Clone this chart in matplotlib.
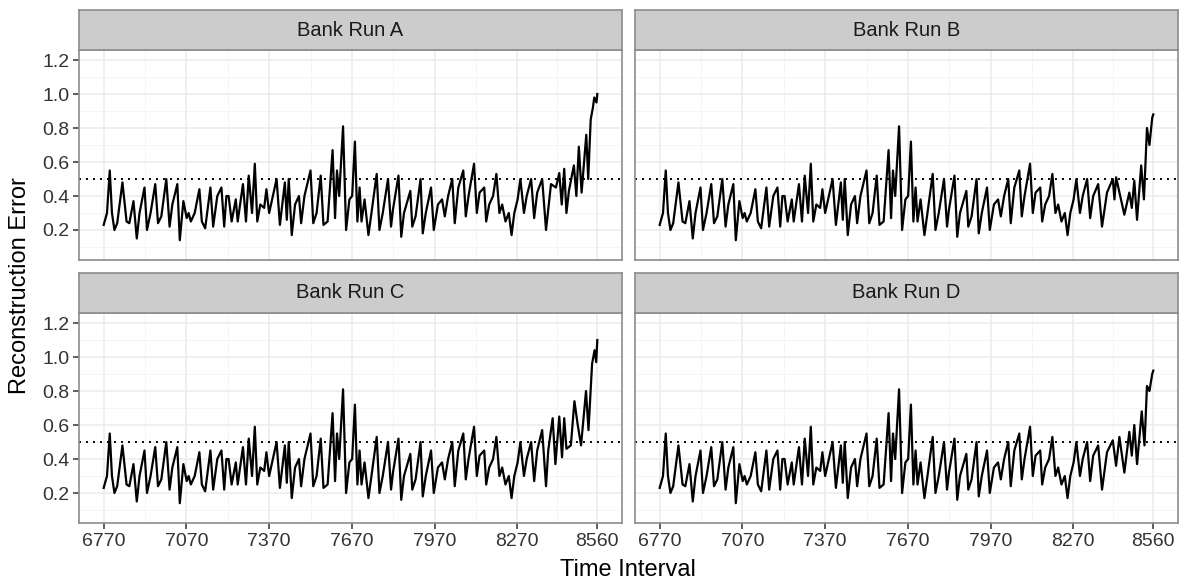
import matplotlib
matplotlib.use("Agg")
import matplotlib.pyplot as plt

plt.rcParams['font.family'] = ['Liberation Sans', 'DejaVu Sans']

# ---------------- data ----------------
panels = ["Bank Run A", "Bank Run B", "Bank Run C", "Bank Run D"]
threshold = 0.5
x_ticks = [6770, 7070, 7370, 7670, 7970, 8270, 8560]
y_ticks = [0.2, 0.4, 0.6, 0.8, 1.0, 1.2]

# common part of the four runs (time interval, reconstruction error)
base_time = [6770, 6775, 6782, 6792, 6800, 6809, 6819, 6838, 6853, 6863, 6878, 6890, 6900, 6918,
             6927, 6940, 6957, 6967, 6979, 6997, 7009, 7019, 7037, 7046, 7059, 7071,
             7078, 7086, 7100, 7117, 7126, 7138, 7157, 7167, 7182, 7197, 7207, 7215,
             7223, 7234, 7249, 7256, 7275, 7286, 7296, 7308, 7318, 7327, 7338, 7352,
             7360, 7370, 7397, 7409, 7427, 7434, 7441, 7452, 7464, 7478, 7486, 7498,
             7520, 7530, 7542, 7557, 7567, 7582, 7600, 7609, 7616, 7624, 7638, 7649,
             7661, 7671, 7681, 7690, 7698, 7705, 7716, 7730, 7741, 7760, 7770, 7782,
             7801, 7812, 7819, 7839, 7849, 7859, 7882, 7889, 7901, 7919, 7927, 7938,
             7957, 7967, 7982, 7997, 8007, 8019, 8034, 8043, 8056, 8074, 8083, 8093,
             8113, 8123, 8133, 8150, 8157, 8168, 8182, 8194, 8205, 8215, 8227, 8239,
             8249, 8259, 8271, 8281, 8294, 8304, 8320]
base_error = [0.23, 0.26, 0.30, 0.55, 0.30, 0.20, 0.24, 0.48, 0.25, 0.24, 0.37, 0.15, 0.30, 0.45,
              0.20, 0.30, 0.47, 0.24, 0.28, 0.50, 0.22, 0.35, 0.47, 0.14, 0.37, 0.27,
              0.30, 0.25, 0.30, 0.44, 0.25, 0.21, 0.45, 0.22, 0.40, 0.45, 0.22, 0.40,
              0.40, 0.25, 0.38, 0.25, 0.47, 0.25, 0.52, 0.30, 0.59, 0.25, 0.35, 0.33,
              0.44, 0.30, 0.50, 0.23, 0.48, 0.26, 0.50, 0.17, 0.35, 0.40, 0.24, 0.40,
              0.55, 0.24, 0.30, 0.52, 0.23, 0.25, 0.67, 0.27, 0.55, 0.40, 0.81, 0.20,
              0.38, 0.40, 0.72, 0.25, 0.45, 0.25, 0.38, 0.17, 0.30, 0.53, 0.20, 0.30,
              0.50, 0.22, 0.32, 0.52, 0.16, 0.30, 0.43, 0.22, 0.28, 0.50, 0.18, 0.30,
              0.45, 0.20, 0.35, 0.38, 0.28, 0.40, 0.50, 0.24, 0.45, 0.55, 0.28, 0.40,
              0.59, 0.30, 0.42, 0.45, 0.25, 0.35, 0.40, 0.53, 0.30, 0.35, 0.25, 0.30,
              0.17, 0.30, 0.38, 0.50, 0.30, 0.40, 0.50]

# run-specific end segments
tail_time_A = [8331, 8342, 8360, 8374, 8392, 8410, 8422, 8431, 8440, 8448, 8457, 8475,
               8484, 8493, 8503, 8520, 8527, 8536, 8544, 8549, 8557, 8560]
tail_error_A = [0.27, 0.42, 0.50, 0.20, 0.47, 0.45, 0.535, 0.35, 0.56, 0.30, 0.43, 0.58,
                0.40, 0.69, 0.42, 0.76, 0.50, 0.85, 0.92, 0.98, 0.95, 1.00]
tail_time_B = [8331, 8342, 8360, 8374, 8392, 8413, 8419, 8425, 8440, 8455, 8473, 8482,
               8491, 8501, 8516, 8526, 8537, 8546, 8556, 8560]
tail_error_B = [0.27, 0.40, 0.47, 0.22, 0.42, 0.50, 0.38, 0.51, 0.40, 0.29, 0.42, 0.33,
                0.49, 0.26, 0.58, 0.38, 0.80, 0.70, 0.86, 0.88]
tail_time_C = [8331, 8342, 8360, 8374, 8382, 8398, 8408, 8422, 8432, 8440, 8448, 8464,
               8477, 8489, 8501, 8519, 8528, 8541, 8550, 8556, 8560]
tail_error_C = [0.27, 0.45, 0.57, 0.24, 0.45, 0.64, 0.37, 0.65, 0.41, 0.64, 0.46, 0.48,
                0.74, 0.60, 0.48, 0.80, 0.57, 0.96, 1.04, 0.97, 1.10]
tail_time_D = [8331, 8342, 8360, 8374, 8392, 8413, 8425, 8437, 8455, 8473, 8482, 8491,
               8501, 8518, 8528, 8537, 8546, 8556, 8560]
tail_error_D = [0.27, 0.42, 0.48, 0.22, 0.44, 0.51, 0.36, 0.53, 0.32, 0.56, 0.42, 0.60,
                0.37, 0.68, 0.48, 0.83, 0.80, 0.90, 0.92]

tails = {
    "Bank Run A": (tail_time_A, tail_error_A),
    "Bank Run B": (tail_time_B, tail_error_B),
    "Bank Run C": (tail_time_C, tail_error_C),
    "Bank Run D": (tail_time_D, tail_error_D),
}

# ---------------- layout ----------------
W, H = 1183, 583
fig = plt.figure(figsize=(W / 100, H / 100), dpi=100)
fig.patch.set_facecolor("white")


def rect(l, t, r, b):
    return [l / W, 1 - b / H, (r - l) / W, (b - t) / H]


boxes = {
    "Bank Run A": (79, 50, 622, 260),
    "Bank Run B": (635, 50, 1178, 260),
    "Bank Run C": (79, 313, 622, 523),
    "Bank Run D": (635, 313, 1178, 523),
}
strip_h = 40
border_col = "#8c8c8c"
grid_major = "#ebebeb"
grid_minor = "#f4f4f4"
text_col = "#333333"

x_minor = [6620, 6920, 7220, 7520, 7820, 8120, 8415]
y_minor = [0.1, 0.3, 0.5, 0.7, 0.9, 1.1]

for i, name in enumerate(panels):
    l, t, r, b = boxes[name]
    ax = fig.add_axes(rect(l, t, r, b))
    ax.set_xlim(6680.5, 8649.5)
    ax.set_ylim(0.0235, 1.259)

    for xm in x_minor:
        ax.axvline(xm, color=grid_minor, lw=0.6, zorder=0)
    for ym in y_minor:
        ax.axhline(ym, color=grid_minor, lw=0.6, zorder=0)
    for xm in x_ticks:
        ax.axvline(xm, color=grid_major, lw=1.1, zorder=0)
    for ym in y_ticks:
        ax.axhline(ym, color=grid_major, lw=1.1, zorder=0)

    tt, te = tails[name]
    ax.plot(base_time + tt, base_error + te, color="black", lw=1.6, zorder=3,
            solid_joinstyle="round")
    ax.axhline(threshold, color="black", lw=1.4, linestyle=(0, (1, 2.6)), zorder=2)

    ax.set_xticks(x_ticks)
    ax.set_yticks(y_ticks)
    ax.tick_params(direction="out", length=4, width=1.1, color="#333333",
                   labelsize=14, labelcolor=text_col, pad=3)
    bottom_row = name in ("Bank Run C", "Bank Run D")
    left_col = name in ("Bank Run A", "Bank Run C")
    if bottom_row:
        ax.set_xticklabels([str(v) for v in x_ticks])
    else:
        ax.tick_params(axis="x", length=0, labelbottom=False)
    if left_col:
        ax.set_yticklabels([f"{v:.1f}" for v in y_ticks])
    else:
        ax.tick_params(axis="y", length=0, labelleft=False)

    for s in ax.spines.values():
        s.set_color(border_col)
        s.set_linewidth(1.2)

    # strip
    sax = fig.add_axes(rect(l, t - strip_h, r, t))
    sax.set_xlim(0, 1)
    sax.set_ylim(0, 1)
    sax.set_facecolor("#cccccc")
    sax.set_xticks([])
    sax.set_yticks([])
    for s in sax.spines.values():
        s.set_color(border_col)
        s.set_linewidth(1.2)
    sax.text(0.5, 0.5, name, ha="center", va="center", fontsize=14.5, color="#1a1a1a")

fig.text(628 / W, 1 - 570 / H, "Time Interval", ha="center", va="center",
         fontsize=17, color="black")
fig.text(20 / W, 1 - 286 / H, "Reconstruction Error", ha="center", va="center",
         rotation=90, fontsize=17, color="black")

fig.savefig("out.png", dpi=100, facecolor="white")
